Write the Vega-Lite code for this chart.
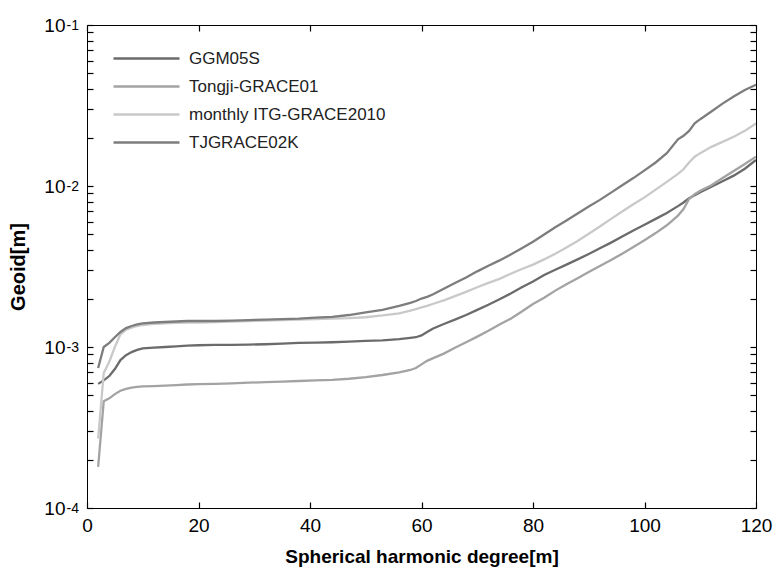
{
  "$schema": "https://vega.github.io/schema/vega-lite/v6.json",
  "width": 669,
  "height": 483,
  "autosize": {"type": "none"},
  "padding": {"left": 87, "top": 25, "right": 21, "bottom": 71},
  "background": "white",
  "config": {
    "view": {"stroke": "black", "strokeWidth": 1},
    "font": "Liberation Sans",
    "axis": {"grid": false, "domain": false, "ticks": true, "tickColor": "#000000", "tickWidth": 1.2, "tickOpacity": 1, "labelColor": "black", "titleColor": "black", "labelFont": "Liberation Sans", "titleFont": "Liberation Sans"}
  },
  "data": {"values": [
    {"d":2,"s":"GGM05S","v":0.00059},{"d":3,"s":"GGM05S","v":0.00062},{"d":4,"s":"GGM05S","v":0.00066},{"d":5,"s":"GGM05S","v":0.00073},{"d":6,"s":"GGM05S","v":0.00083},{"d":7,"s":"GGM05S","v":0.00089},{"d":8,"s":"GGM05S","v":0.00093},{"d":9,"s":"GGM05S","v":0.00096},{"d":10,"s":"GGM05S","v":0.00098},{"d":12,"s":"GGM05S","v":0.00099},{"d":14,"s":"GGM05S","v":0.001},{"d":16,"s":"GGM05S","v":0.00101},{"d":18,"s":"GGM05S","v":0.00102},{"d":20,"s":"GGM05S","v":0.001025},{"d":23,"s":"GGM05S","v":0.00103},{"d":26,"s":"GGM05S","v":0.00103},{"d":29,"s":"GGM05S","v":0.001035},{"d":32,"s":"GGM05S","v":0.00104},{"d":35,"s":"GGM05S","v":0.00105},{"d":38,"s":"GGM05S","v":0.00106},{"d":41,"s":"GGM05S","v":0.001065},{"d":44,"s":"GGM05S","v":0.00107},{"d":47,"s":"GGM05S","v":0.00108},{"d":50,"s":"GGM05S","v":0.00109},{"d":53,"s":"GGM05S","v":0.0011},{"d":56,"s":"GGM05S","v":0.00112},{"d":58,"s":"GGM05S","v":0.00114},{"d":59,"s":"GGM05S","v":0.00115},{"d":60,"s":"GGM05S","v":0.00118},{"d":61,"s":"GGM05S","v":0.00124},{"d":62,"s":"GGM05S","v":0.0013},{"d":64,"s":"GGM05S","v":0.00139},{"d":66,"s":"GGM05S","v":0.00148},{"d":68,"s":"GGM05S","v":0.00158},{"d":70,"s":"GGM05S","v":0.0017},{"d":72,"s":"GGM05S","v":0.00183},{"d":74,"s":"GGM05S","v":0.00198},{"d":76,"s":"GGM05S","v":0.00215},{"d":78,"s":"GGM05S","v":0.00235},{"d":80,"s":"GGM05S","v":0.00255},{"d":82,"s":"GGM05S","v":0.0028},{"d":84,"s":"GGM05S","v":0.00302},{"d":86,"s":"GGM05S","v":0.00325},{"d":88,"s":"GGM05S","v":0.0035},{"d":90,"s":"GGM05S","v":0.00378},{"d":92,"s":"GGM05S","v":0.0041},{"d":94,"s":"GGM05S","v":0.00445},{"d":96,"s":"GGM05S","v":0.00485},{"d":98,"s":"GGM05S","v":0.0053},{"d":100,"s":"GGM05S","v":0.00575},{"d":102,"s":"GGM05S","v":0.00625},{"d":104,"s":"GGM05S","v":0.0068},{"d":106,"s":"GGM05S","v":0.0075},{"d":107,"s":"GGM05S","v":0.0079},{"d":108,"s":"GGM05S","v":0.0084},{"d":109,"s":"GGM05S","v":0.00875},{"d":110,"s":"GGM05S","v":0.00915},{"d":112,"s":"GGM05S","v":0.0099},{"d":114,"s":"GGM05S","v":0.0107},{"d":116,"s":"GGM05S","v":0.0116},{"d":118,"s":"GGM05S","v":0.0128},{"d":120,"s":"GGM05S","v":0.0145},
    {"d":2,"s":"Tongji-GRACE01","v":0.00018},{"d":3,"s":"Tongji-GRACE01","v":0.00046},{"d":4,"s":"Tongji-GRACE01","v":0.00048},{"d":5,"s":"Tongji-GRACE01","v":0.00051},{"d":6,"s":"Tongji-GRACE01","v":0.000535},{"d":7,"s":"Tongji-GRACE01","v":0.00055},{"d":8,"s":"Tongji-GRACE01","v":0.00056},{"d":9,"s":"Tongji-GRACE01","v":0.000565},{"d":10,"s":"Tongji-GRACE01","v":0.00057},{"d":12,"s":"Tongji-GRACE01","v":0.000572},{"d":14,"s":"Tongji-GRACE01","v":0.000575},{"d":16,"s":"Tongji-GRACE01","v":0.00058},{"d":18,"s":"Tongji-GRACE01","v":0.000585},{"d":20,"s":"Tongji-GRACE01","v":0.000588},{"d":23,"s":"Tongji-GRACE01","v":0.00059},{"d":26,"s":"Tongji-GRACE01","v":0.000595},{"d":29,"s":"Tongji-GRACE01","v":0.0006},{"d":32,"s":"Tongji-GRACE01","v":0.000605},{"d":35,"s":"Tongji-GRACE01","v":0.00061},{"d":38,"s":"Tongji-GRACE01","v":0.000615},{"d":41,"s":"Tongji-GRACE01","v":0.00062},{"d":44,"s":"Tongji-GRACE01","v":0.000625},{"d":47,"s":"Tongji-GRACE01","v":0.000635},{"d":50,"s":"Tongji-GRACE01","v":0.00065},{"d":53,"s":"Tongji-GRACE01","v":0.00067},{"d":56,"s":"Tongji-GRACE01","v":0.000695},{"d":58,"s":"Tongji-GRACE01","v":0.00072},{"d":59,"s":"Tongji-GRACE01","v":0.00074},{"d":60,"s":"Tongji-GRACE01","v":0.00078},{"d":61,"s":"Tongji-GRACE01","v":0.00082},{"d":62,"s":"Tongji-GRACE01","v":0.00085},{"d":64,"s":"Tongji-GRACE01","v":0.00091},{"d":66,"s":"Tongji-GRACE01","v":0.00099},{"d":68,"s":"Tongji-GRACE01","v":0.00107},{"d":70,"s":"Tongji-GRACE01","v":0.00116},{"d":72,"s":"Tongji-GRACE01","v":0.00126},{"d":74,"s":"Tongji-GRACE01","v":0.00138},{"d":76,"s":"Tongji-GRACE01","v":0.0015},{"d":78,"s":"Tongji-GRACE01","v":0.00166},{"d":80,"s":"Tongji-GRACE01","v":0.00185},{"d":82,"s":"Tongji-GRACE01","v":0.00202},{"d":84,"s":"Tongji-GRACE01","v":0.00224},{"d":86,"s":"Tongji-GRACE01","v":0.00245},{"d":88,"s":"Tongji-GRACE01","v":0.00267},{"d":90,"s":"Tongji-GRACE01","v":0.00292},{"d":92,"s":"Tongji-GRACE01","v":0.00318},{"d":94,"s":"Tongji-GRACE01","v":0.00347},{"d":96,"s":"Tongji-GRACE01","v":0.0038},{"d":98,"s":"Tongji-GRACE01","v":0.00418},{"d":100,"s":"Tongji-GRACE01","v":0.0046},{"d":102,"s":"Tongji-GRACE01","v":0.0051},{"d":104,"s":"Tongji-GRACE01","v":0.0057},{"d":106,"s":"Tongji-GRACE01","v":0.00655},{"d":107,"s":"Tongji-GRACE01","v":0.0072},{"d":108,"s":"Tongji-GRACE01","v":0.0083},{"d":109,"s":"Tongji-GRACE01","v":0.0089},{"d":110,"s":"Tongji-GRACE01","v":0.00935},{"d":112,"s":"Tongji-GRACE01","v":0.0101},{"d":114,"s":"Tongji-GRACE01","v":0.0112},{"d":116,"s":"Tongji-GRACE01","v":0.0124},{"d":118,"s":"Tongji-GRACE01","v":0.0137},{"d":120,"s":"Tongji-GRACE01","v":0.0152},
    {"d":2,"s":"monthly ITG-GRACE2010","v":0.00027},{"d":3,"s":"monthly ITG-GRACE2010","v":0.00069},{"d":4,"s":"monthly ITG-GRACE2010","v":0.00081},{"d":5,"s":"monthly ITG-GRACE2010","v":0.001},{"d":6,"s":"monthly ITG-GRACE2010","v":0.0012},{"d":7,"s":"monthly ITG-GRACE2010","v":0.00128},{"d":8,"s":"monthly ITG-GRACE2010","v":0.00132},{"d":9,"s":"monthly ITG-GRACE2010","v":0.00135},{"d":10,"s":"monthly ITG-GRACE2010","v":0.00137},{"d":12,"s":"monthly ITG-GRACE2010","v":0.00139},{"d":14,"s":"monthly ITG-GRACE2010","v":0.0014},{"d":16,"s":"monthly ITG-GRACE2010","v":0.00141},{"d":18,"s":"monthly ITG-GRACE2010","v":0.00142},{"d":20,"s":"monthly ITG-GRACE2010","v":0.00142},{"d":23,"s":"monthly ITG-GRACE2010","v":0.00143},{"d":26,"s":"monthly ITG-GRACE2010","v":0.00144},{"d":29,"s":"monthly ITG-GRACE2010","v":0.00145},{"d":32,"s":"monthly ITG-GRACE2010","v":0.00146},{"d":35,"s":"monthly ITG-GRACE2010","v":0.00147},{"d":38,"s":"monthly ITG-GRACE2010","v":0.00148},{"d":41,"s":"monthly ITG-GRACE2010","v":0.00149},{"d":44,"s":"monthly ITG-GRACE2010","v":0.0015},{"d":47,"s":"monthly ITG-GRACE2010","v":0.00151},{"d":50,"s":"monthly ITG-GRACE2010","v":0.00153},{"d":53,"s":"monthly ITG-GRACE2010","v":0.00157},{"d":56,"s":"monthly ITG-GRACE2010","v":0.00162},{"d":58,"s":"monthly ITG-GRACE2010","v":0.00168},{"d":59,"s":"monthly ITG-GRACE2010","v":0.00172},{"d":60,"s":"monthly ITG-GRACE2010","v":0.00176},{"d":61,"s":"monthly ITG-GRACE2010","v":0.0018},{"d":62,"s":"monthly ITG-GRACE2010","v":0.00185},{"d":64,"s":"monthly ITG-GRACE2010","v":0.00195},{"d":66,"s":"monthly ITG-GRACE2010","v":0.00207},{"d":68,"s":"monthly ITG-GRACE2010","v":0.0022},{"d":70,"s":"monthly ITG-GRACE2010","v":0.00235},{"d":72,"s":"monthly ITG-GRACE2010","v":0.0025},{"d":74,"s":"monthly ITG-GRACE2010","v":0.00265},{"d":76,"s":"monthly ITG-GRACE2010","v":0.00285},{"d":78,"s":"monthly ITG-GRACE2010","v":0.00305},{"d":80,"s":"monthly ITG-GRACE2010","v":0.00325},{"d":82,"s":"monthly ITG-GRACE2010","v":0.0035},{"d":84,"s":"monthly ITG-GRACE2010","v":0.0038},{"d":86,"s":"monthly ITG-GRACE2010","v":0.00415},{"d":88,"s":"monthly ITG-GRACE2010","v":0.00455},{"d":90,"s":"monthly ITG-GRACE2010","v":0.00505},{"d":92,"s":"monthly ITG-GRACE2010","v":0.0056},{"d":94,"s":"monthly ITG-GRACE2010","v":0.00625},{"d":96,"s":"monthly ITG-GRACE2010","v":0.00695},{"d":98,"s":"monthly ITG-GRACE2010","v":0.0077},{"d":100,"s":"monthly ITG-GRACE2010","v":0.0085},{"d":102,"s":"monthly ITG-GRACE2010","v":0.0095},{"d":104,"s":"monthly ITG-GRACE2010","v":0.0106},{"d":106,"s":"monthly ITG-GRACE2010","v":0.0119},{"d":107,"s":"monthly ITG-GRACE2010","v":0.0127},{"d":108,"s":"monthly ITG-GRACE2010","v":0.014},{"d":109,"s":"monthly ITG-GRACE2010","v":0.0152},{"d":110,"s":"monthly ITG-GRACE2010","v":0.016},{"d":112,"s":"monthly ITG-GRACE2010","v":0.0175},{"d":114,"s":"monthly ITG-GRACE2010","v":0.0188},{"d":116,"s":"monthly ITG-GRACE2010","v":0.0202},{"d":118,"s":"monthly ITG-GRACE2010","v":0.022},{"d":120,"s":"monthly ITG-GRACE2010","v":0.0245},
    {"d":2,"s":"TJGRACE02K","v":0.00074},{"d":3,"s":"TJGRACE02K","v":0.001},{"d":4,"s":"TJGRACE02K","v":0.00106},{"d":5,"s":"TJGRACE02K","v":0.00115},{"d":6,"s":"TJGRACE02K","v":0.00124},{"d":7,"s":"TJGRACE02K","v":0.00131},{"d":8,"s":"TJGRACE02K","v":0.00135},{"d":9,"s":"TJGRACE02K","v":0.00138},{"d":10,"s":"TJGRACE02K","v":0.0014},{"d":12,"s":"TJGRACE02K","v":0.00142},{"d":14,"s":"TJGRACE02K","v":0.00143},{"d":16,"s":"TJGRACE02K","v":0.00144},{"d":18,"s":"TJGRACE02K","v":0.00145},{"d":20,"s":"TJGRACE02K","v":0.00145},{"d":23,"s":"TJGRACE02K","v":0.00145},{"d":26,"s":"TJGRACE02K","v":0.00146},{"d":29,"s":"TJGRACE02K","v":0.00147},{"d":32,"s":"TJGRACE02K","v":0.00148},{"d":35,"s":"TJGRACE02K","v":0.00149},{"d":38,"s":"TJGRACE02K","v":0.0015},{"d":41,"s":"TJGRACE02K","v":0.00152},{"d":44,"s":"TJGRACE02K","v":0.00154},{"d":47,"s":"TJGRACE02K","v":0.00158},{"d":50,"s":"TJGRACE02K","v":0.00164},{"d":53,"s":"TJGRACE02K","v":0.0017},{"d":56,"s":"TJGRACE02K","v":0.0018},{"d":58,"s":"TJGRACE02K","v":0.00188},{"d":59,"s":"TJGRACE02K","v":0.00193},{"d":60,"s":"TJGRACE02K","v":0.002},{"d":61,"s":"TJGRACE02K","v":0.00205},{"d":62,"s":"TJGRACE02K","v":0.00212},{"d":64,"s":"TJGRACE02K","v":0.0023},{"d":66,"s":"TJGRACE02K","v":0.0025},{"d":68,"s":"TJGRACE02K","v":0.0027},{"d":70,"s":"TJGRACE02K","v":0.00295},{"d":72,"s":"TJGRACE02K","v":0.0032},{"d":74,"s":"TJGRACE02K","v":0.00345},{"d":76,"s":"TJGRACE02K","v":0.00375},{"d":78,"s":"TJGRACE02K","v":0.0041},{"d":80,"s":"TJGRACE02K","v":0.0045},{"d":82,"s":"TJGRACE02K","v":0.005},{"d":84,"s":"TJGRACE02K","v":0.00555},{"d":86,"s":"TJGRACE02K","v":0.0061},{"d":88,"s":"TJGRACE02K","v":0.00675},{"d":90,"s":"TJGRACE02K","v":0.00745},{"d":92,"s":"TJGRACE02K","v":0.0082},{"d":94,"s":"TJGRACE02K","v":0.0091},{"d":96,"s":"TJGRACE02K","v":0.0101},{"d":98,"s":"TJGRACE02K","v":0.0112},{"d":100,"s":"TJGRACE02K","v":0.0125},{"d":102,"s":"TJGRACE02K","v":0.014},{"d":104,"s":"TJGRACE02K","v":0.016},{"d":106,"s":"TJGRACE02K","v":0.0195},{"d":107,"s":"TJGRACE02K","v":0.0205},{"d":108,"s":"TJGRACE02K","v":0.022},{"d":109,"s":"TJGRACE02K","v":0.0245},{"d":110,"s":"TJGRACE02K","v":0.026},{"d":112,"s":"TJGRACE02K","v":0.029},{"d":114,"s":"TJGRACE02K","v":0.0325},{"d":116,"s":"TJGRACE02K","v":0.036},{"d":118,"s":"TJGRACE02K","v":0.0395},{"d":120,"s":"TJGRACE02K","v":0.0425}
  ]},
  "layer": [
    {
      "mark": {"type": "line", "strokeWidth": 2.3, "clip": true},
      "encoding": {
        "x": {"field": "d", "type": "quantitative", "scale": {"domain": [0, 120], "nice": false},
          "axis": {"orient": "bottom", "values": [0, 20, 40, 60, 80, 100, 120], "tickSize": -6, "labelPadding": 14, "labelFontSize": 19, "labelFlush": false, "title": "Spherical harmonic degree[m]", "titleFontSize": 19, "titleFontWeight": "bold", "titlePadding": 12}},
        "y": {"field": "v", "type": "quantitative", "scale": {"type": "log", "domain": [0.0001, 0.1], "nice": false},
          "axis": {"orient": "left", "values": [0.0001, 0.0002, 0.0003, 0.0004, 0.0005, 0.0006, 0.0007, 0.0008, 0.0009, 0.001, 0.002, 0.003, 0.004, 0.005, 0.006, 0.007, 0.008, 0.009, 0.01, 0.02, 0.03, 0.04, 0.05, 0.06, 0.07, 0.08, 0.09, 0.1],
            "labelExpr": "datum.value == 0.1 || datum.value == 0.01 || datum.value == 0.001 || datum.value == 0.0001 ? '10' : ''",
            "offset": -6, "tickSize": 6, "labelPadding": 22, "labelFontSize": 19, "labelOverlap": false, "labelFlush": false, "title": "Geoid[m]", "titleFontSize": 20, "titleFontWeight": "bold", "titlePadding": 15}},
        "color": {"field": "s", "type": "nominal",
          "scale": {"domain": ["GGM05S", "Tongji-GRACE01", "monthly ITG-GRACE2010", "TJGRACE02K"], "range": ["#6b6b6b", "#a3a3a3", "#c9c9c9", "#7d7d7d"]},
          "legend": {"orient": "none", "legendX": 47, "legendY": 21, "title": null, "symbolType": "M-3,0H3", "symbolSize": 484, "symbolStrokeWidth": 2.5, "labelFontSize": 17, "labelFont": "Liberation Sans", "labelColor": "#222", "labelLimit": 400, "rowPadding": 7, "labelOffset": 30}}
      }
    },
    {
      "mark": {"type": "line", "opacity": 0},
      "encoding": {
        "x": {"field": "d", "type": "quantitative", "axis": {"orient": "top", "values": [0, 20, 40, 60, 80, 100, 120], "tickSize": -6, "labels": false, "title": null}},
        "y": {"field": "v", "type": "quantitative", "axis": {"orient": "right", "values": [0.0001, 0.0002, 0.0003, 0.0004, 0.0005, 0.0006, 0.0007, 0.0008, 0.0009, 0.001, 0.002, 0.003, 0.004, 0.005, 0.006, 0.007, 0.008, 0.009, 0.01, 0.02, 0.03, 0.04, 0.05, 0.06, 0.07, 0.08, 0.09, 0.1], "offset": -6, "tickSize": 6, "labels": false, "title": null}},
        "detail": {"field": "s"}
      }
    },
    {
      "mark": {"type": "line", "opacity": 0},
      "encoding": {
        "x": {"field": "d", "type": "quantitative", "axis": null},
        "y": {"field": "v", "type": "quantitative", "axis": {"orient": "left", "values": [0.0001, 0.001, 0.01, 0.1],
          "labelExpr": "datum.value == 0.1 ? '-1' : datum.value == 0.01 ? '-2' : datum.value == 0.001 ? '-3' : '-4'",
          "ticks": false, "tickSize": 0, "labelPadding": 21, "labelAlign": "left", "labelDy": -10, "labelFontSize": 14, "labelOverlap": false, "labelFlush": false, "title": null}},
        "detail": {"field": "s"}
      }
    }
  ],
  "resolve": {"axis": {"x": "independent", "y": "independent"}}
}
